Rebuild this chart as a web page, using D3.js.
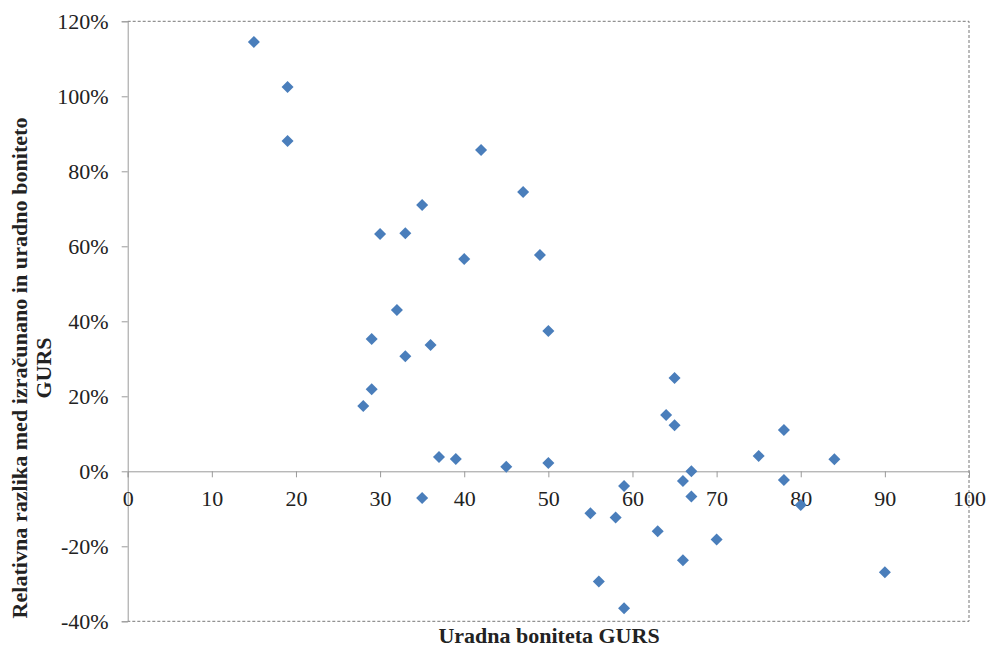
<!DOCTYPE html>
<html>
<head>
<meta charset="utf-8">
<script src="https://cdn.jsdelivr.net/npm/d3@7"></script>
<style>
body { margin: 0; background: #fff; }
text { font-family: "Liberation Serif", "Times New Roman", serif; }
</style>
</head>
<body>
<div id="chart"></div>
<script>
var W = 989, H = 648;
var margin = {left: 127.7, right: 20, top: 21.3, bottom: 26.7};

// uradna boniteta GURS
var boniteta = [15, 19, 19, 28, 29, 29, 30, 32, 33, 33, 35, 35, 36, 37, 39, 40, 42, 45, 47, 49, 50, 50,
	55, 56, 58, 59, 59, 63, 64, 65, 65, 66, 66, 67, 67, 70, 75, 78, 78, 80, 84, 90];
// relativna razlika (%)
var razlika = [114.5, 102.5, 88.1, 17.4, 21.9, 35.3, 63.3, 43.0, 63.5, 30.7, 71.0, -7.1, 33.7, 3.8, 3.3, 56.6, 85.7, 1.2, 74.5, 57.7, 37.4, 2.2,
	-11.2, -29.4, -12.3, -3.9, -36.5, -16.0, 15.0, 24.9, 12.3, -2.6, -23.7, 0.0, -6.7, -18.2, 4.1, 11.0, -2.3, -9.0, 3.2, -26.9];

var xTicks = [0, 10, 20, 30, 40, 50, 60, 70, 80, 90, 100];
var yTicks = [-40, -20, 0, 20, 40, 60, 80, 100, 120];

var blue = "#4a7ebb";
var axisGray = "#9a9a9a";

var svg = d3.select("#chart").append("svg")
	.attr("width", W)
	.attr("height", H);

var x = d3.scaleLinear().domain([0, 100]).range([margin.left, 969]);
var y = d3.scaleLinear().domain([-40, 120]).range([621.3, margin.top]);

// dashed frame: top, right, bottom
svg.append("path")
	.attr("d", "M" + x(0) + "," + y(120) + "H" + x(100) + "V" + y(-40) + "H" + x(0))
	.attr("fill", "none")
	.attr("stroke", "#777")
	.attr("stroke-width", 1)
	.attr("stroke-dasharray", "3,2");

// y axis
var yAxis = svg.append("g")
	.attr("transform", "translate(" + x(0) + ",0)")
	.call(d3.axisLeft(y).tickValues(yTicks).tickSize(6).tickPadding(13)
		.tickFormat(d => d + "%"));
yAxis.select(".domain").attr("stroke", axisGray);
yAxis.selectAll(".tick line").attr("stroke", axisGray);
yAxis.selectAll("text")
	.style("font-size", "22px")
	.attr("fill", "#222")
	.attr("dy", "0.34em");

// x axis at 0%
var xAxis = svg.append("g")
	.attr("transform", "translate(0," + y(0) + ")")
	.call(d3.axisBottom(x).tickValues(xTicks).tickSize(6).tickPadding(13));
xAxis.select(".domain").attr("stroke", axisGray);
xAxis.selectAll(".tick line").attr("stroke", axisGray);
xAxis.selectAll("text")
	.style("font-size", "22px")
	.attr("fill", "#222");

// points
var diamond = d3.symbol().type(d3.symbolDiamond2).size(92);
svg.append("g").selectAll("path")
	.data(boniteta)
	.enter()
	.append("path")
	.attr("d", diamond)
	.attr("transform", (d, i) => "translate(" + x(d) + "," + y(razlika[i]) + ")")
	.attr("fill", blue);

// axis titles
svg.append("text")
	.attr("x", 549)
	.attr("y", 643)
	.attr("text-anchor", "middle")
	.style("font-size", "22px")
	.style("font-weight", "bold")
	.attr("fill", "#222")
	.text("Uradna boniteta GURS");

var yt = svg.append("text")
	.attr("transform", "translate(27,368) rotate(-90)")
	.attr("text-anchor", "middle")
	.style("font-size", "22px")
	.style("font-weight", "bold")
	.attr("fill", "#222");
yt.append("tspan")
	.attr("x", 0)
	.attr("y", 0)
	.attr("textLength", 501)
	.attr("lengthAdjust", "spacing")
	.text("Relativna razlika med izračunano in uradno boniteto");
yt.append("tspan")
	.attr("x", 0)
	.attr("y", 24)
	.text("GURS");
</script>
</body>
</html>
